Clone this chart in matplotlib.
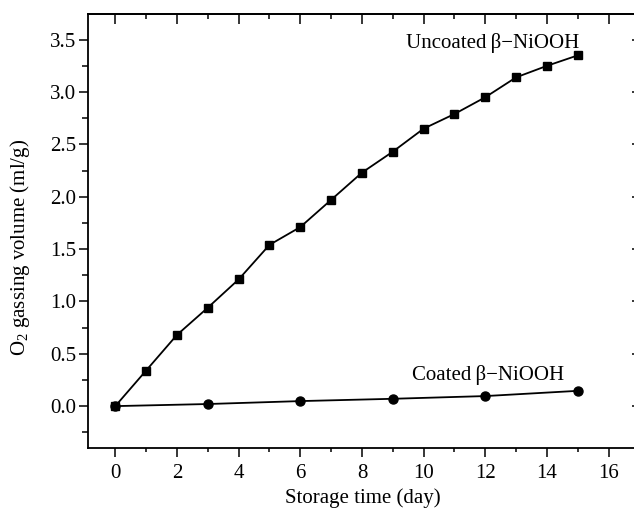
import numpy as np
import matplotlib
matplotlib.use("Agg")
import matplotlib.pyplot as plt
from matplotlib.ticker import MultipleLocator

plt.rcParams['font.family'] = ['Liberation Serif', 'DejaVu Serif']
plt.rcParams['mathtext.fontset'] = 'custom'
plt.rcParams['mathtext.rm'] = 'Liberation Serif'
plt.rcParams['mathtext.it'] = 'Liberation Serif:italic'

# datos
days_uncoated = [0, 1, 2, 3, 4, 5, 6, 7, 8, 9, 10, 11, 12, 13, 14, 15]
vol_uncoated = [0.0, 0.34, 0.68, 0.94, 1.21, 1.54, 1.71, 1.97, 2.23, 2.43,
                2.65, 2.79, 2.95, 3.14, 3.25, 3.35]
days_coated = [0, 3, 6, 9, 12, 15]
vol_coated = [0.0, 0.02, 0.048, 0.07, 0.096, 0.146]

fig = plt.figure(figsize=(6.34, 5.11), dpi=100)
ax = fig.add_axes([88/634, 63/511, 549/634, 434/511])

ax.plot(days_uncoated, vol_uncoated, 'k-', marker='s', markersize=6, linewidth=1.3)
ax.plot(days_coated, vol_coated, 'k-', marker='o', markersize=6.5, linewidth=1.3)

ax.text(15.05, 3.47, 'Uncoated\u2009\u03b2\u2212NiOOH', fontsize=15, ha='right', va='center')
ax.text(14.55, 0.30, 'Coated\u2009\u03b2\u2212NiOOH', fontsize=15, ha='right', va='center')

ax.set_xlim(-0.885, 16.92)
ax.set_ylim(-0.40, 3.745)
ax.xaxis.set_major_locator(MultipleLocator(2))
ax.xaxis.set_minor_locator(MultipleLocator(1))
ax.yaxis.set_major_locator(MultipleLocator(0.5))
ax.yaxis.set_minor_locator(MultipleLocator(0.25))
ax.yaxis.set_major_formatter(plt.FormatStrFormatter('%.1f'))

for s in ax.spines.values():
    s.set_linewidth(1.3)
ax.spines['right'].set_visible(False)
ax.tick_params(which='both', labelsize=15, width=1.1)
ax.tick_params(axis='x', which='major', direction='out', length=6.5, pad=5)
ax.tick_params(axis='x', which='minor', direction='out', length=3)
ax.tick_params(axis='y', which='major', direction='out', length=6.5, pad=2)
ax.tick_params(axis='y', which='minor', direction='out', length=4.3)

# marcas arriba y a la derecha (hacia dentro)
top = ax.secondary_xaxis('top')
top.xaxis.set_major_locator(MultipleLocator(2))
top.xaxis.set_minor_locator(MultipleLocator(1))
top.tick_params(which='major', direction='in', length=7, width=1.1, labeltop=False)
top.tick_params(which='minor', direction='in', length=3.5, width=1.1)
top.spines['top'].set_linewidth(1.3)
right = ax.secondary_yaxis('right')
right.yaxis.set_major_locator(MultipleLocator(0.5))
right.tick_params(which='major', direction='in', length=3.5, width=1.1, labelright=False)
right.spines['right'].set_visible(False)

ax.set_xlabel('Storage time (day)', fontsize=15, labelpad=4)
ax.set_ylabel(r'O$_2$ gassing volume (ml/g)', fontsize=15, labelpad=4)
ax.yaxis.set_label_coords(-0.102, 0.463)

fig.savefig('out.png', dpi=100)
